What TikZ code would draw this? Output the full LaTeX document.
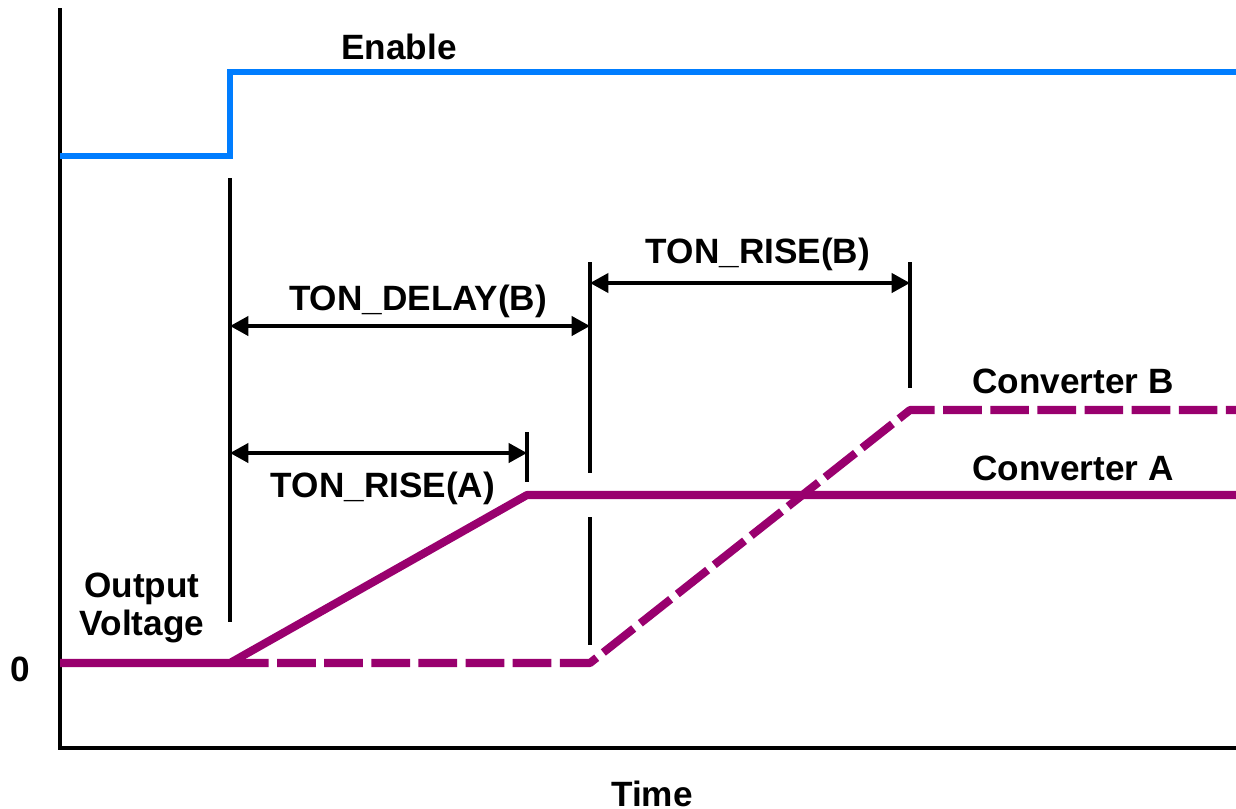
\documentclass[tikz,border=0pt]{standalone}
\usepackage{fontspec}
\setmainfont{Liberation Sans}
\usepackage{tikz}
\usetikzlibrary{arrows.meta}
\definecolor{enblue}{RGB}{0,125,255}
\definecolor{vmag}{RGB}{153,0,110}

\begin{document}
\begin{tikzpicture}[x=0.01cm, y=-0.01cm, font=\fontsize{10}{11}\selectfont\bfseries,
  axisline/.style={line width=1.4pt},
  tline/.style={line width=1.1pt},
  dim/.style={line width=1.1pt, {Triangle[length=5.2pt,width=5.4pt]}-{Triangle[length=5.2pt,width=5.4pt]}},
  conv/.style={line width=2.3pt, vmag, line join=round}]
  \useasboundingbox (0,0) rectangle (1236,808);
  % assi
  \draw[axisline] (60,8) -- (60,748) -- (1236,748);
  % segnale di enable
  \draw[line width=1.7pt, enblue] (60,156) -- (230,156) -- (230,72) -- (1236,72);
  % punti delle rampe
  \coordinate (t0) at (230,663);
  \coordinate (a1) at (527,495);
  \coordinate (b0) at (590,663);
  \coordinate (b1) at (910,410);
  \draw[conv] (60,663) -- (t0) -- (a1) -- (1236,495);
  \draw[conv, dash pattern=on 11pt off 2.4pt] (t0) -- (b0) -- (b1) -- (1236,410);
  % linee di riferimento
  \draw[tline] (230,178) coordinate (e0) -- (230,622);
  \draw[tline] (590,262) -- (590,473) (590,517) -- (590,645);
  \draw[tline] (527,432) -- (527,482);
  \draw[tline] (910,262) -- (910,388);
  % quote
  \coordinate (dly0) at (230,326); \coordinate (dly1) at (590,326);
  \coordinate (ra0) at (230,453);  \coordinate (ra1) at (527,453);
  \coordinate (rb0) at (590,283);  \coordinate (rb1) at (910,283);
  \draw[dim] (dly0) -- (dly1);
  \draw[dim] (ra0) -- (ra1);
  \draw[dim] (rb0) -- (rb1);
  % etichette
  \node[anchor=base] (enable) at (399,59) {Enable};
  \node[anchor=base] (dly) at (418,310) {TON\_DELAY(B)};
  \node[anchor=base] (riseA) at (383,497) {TON\_RISE(A)};
  \node[anchor=base] (riseB) at (758,263) {TON\_RISE(B)};
  \node[anchor=base] (convB) at (1073,393) {Converter B};
  \node[anchor=base] (convA) at (1073,480) {Converter A};
  \node[align=center] (vout) at (142,608) {Output\\Voltage};
  \node[anchor=base] (zero) at (20,681) {0};
  \node[anchor=base] (time) at (652,806) {Time};
\end{tikzpicture}
\end{document}
